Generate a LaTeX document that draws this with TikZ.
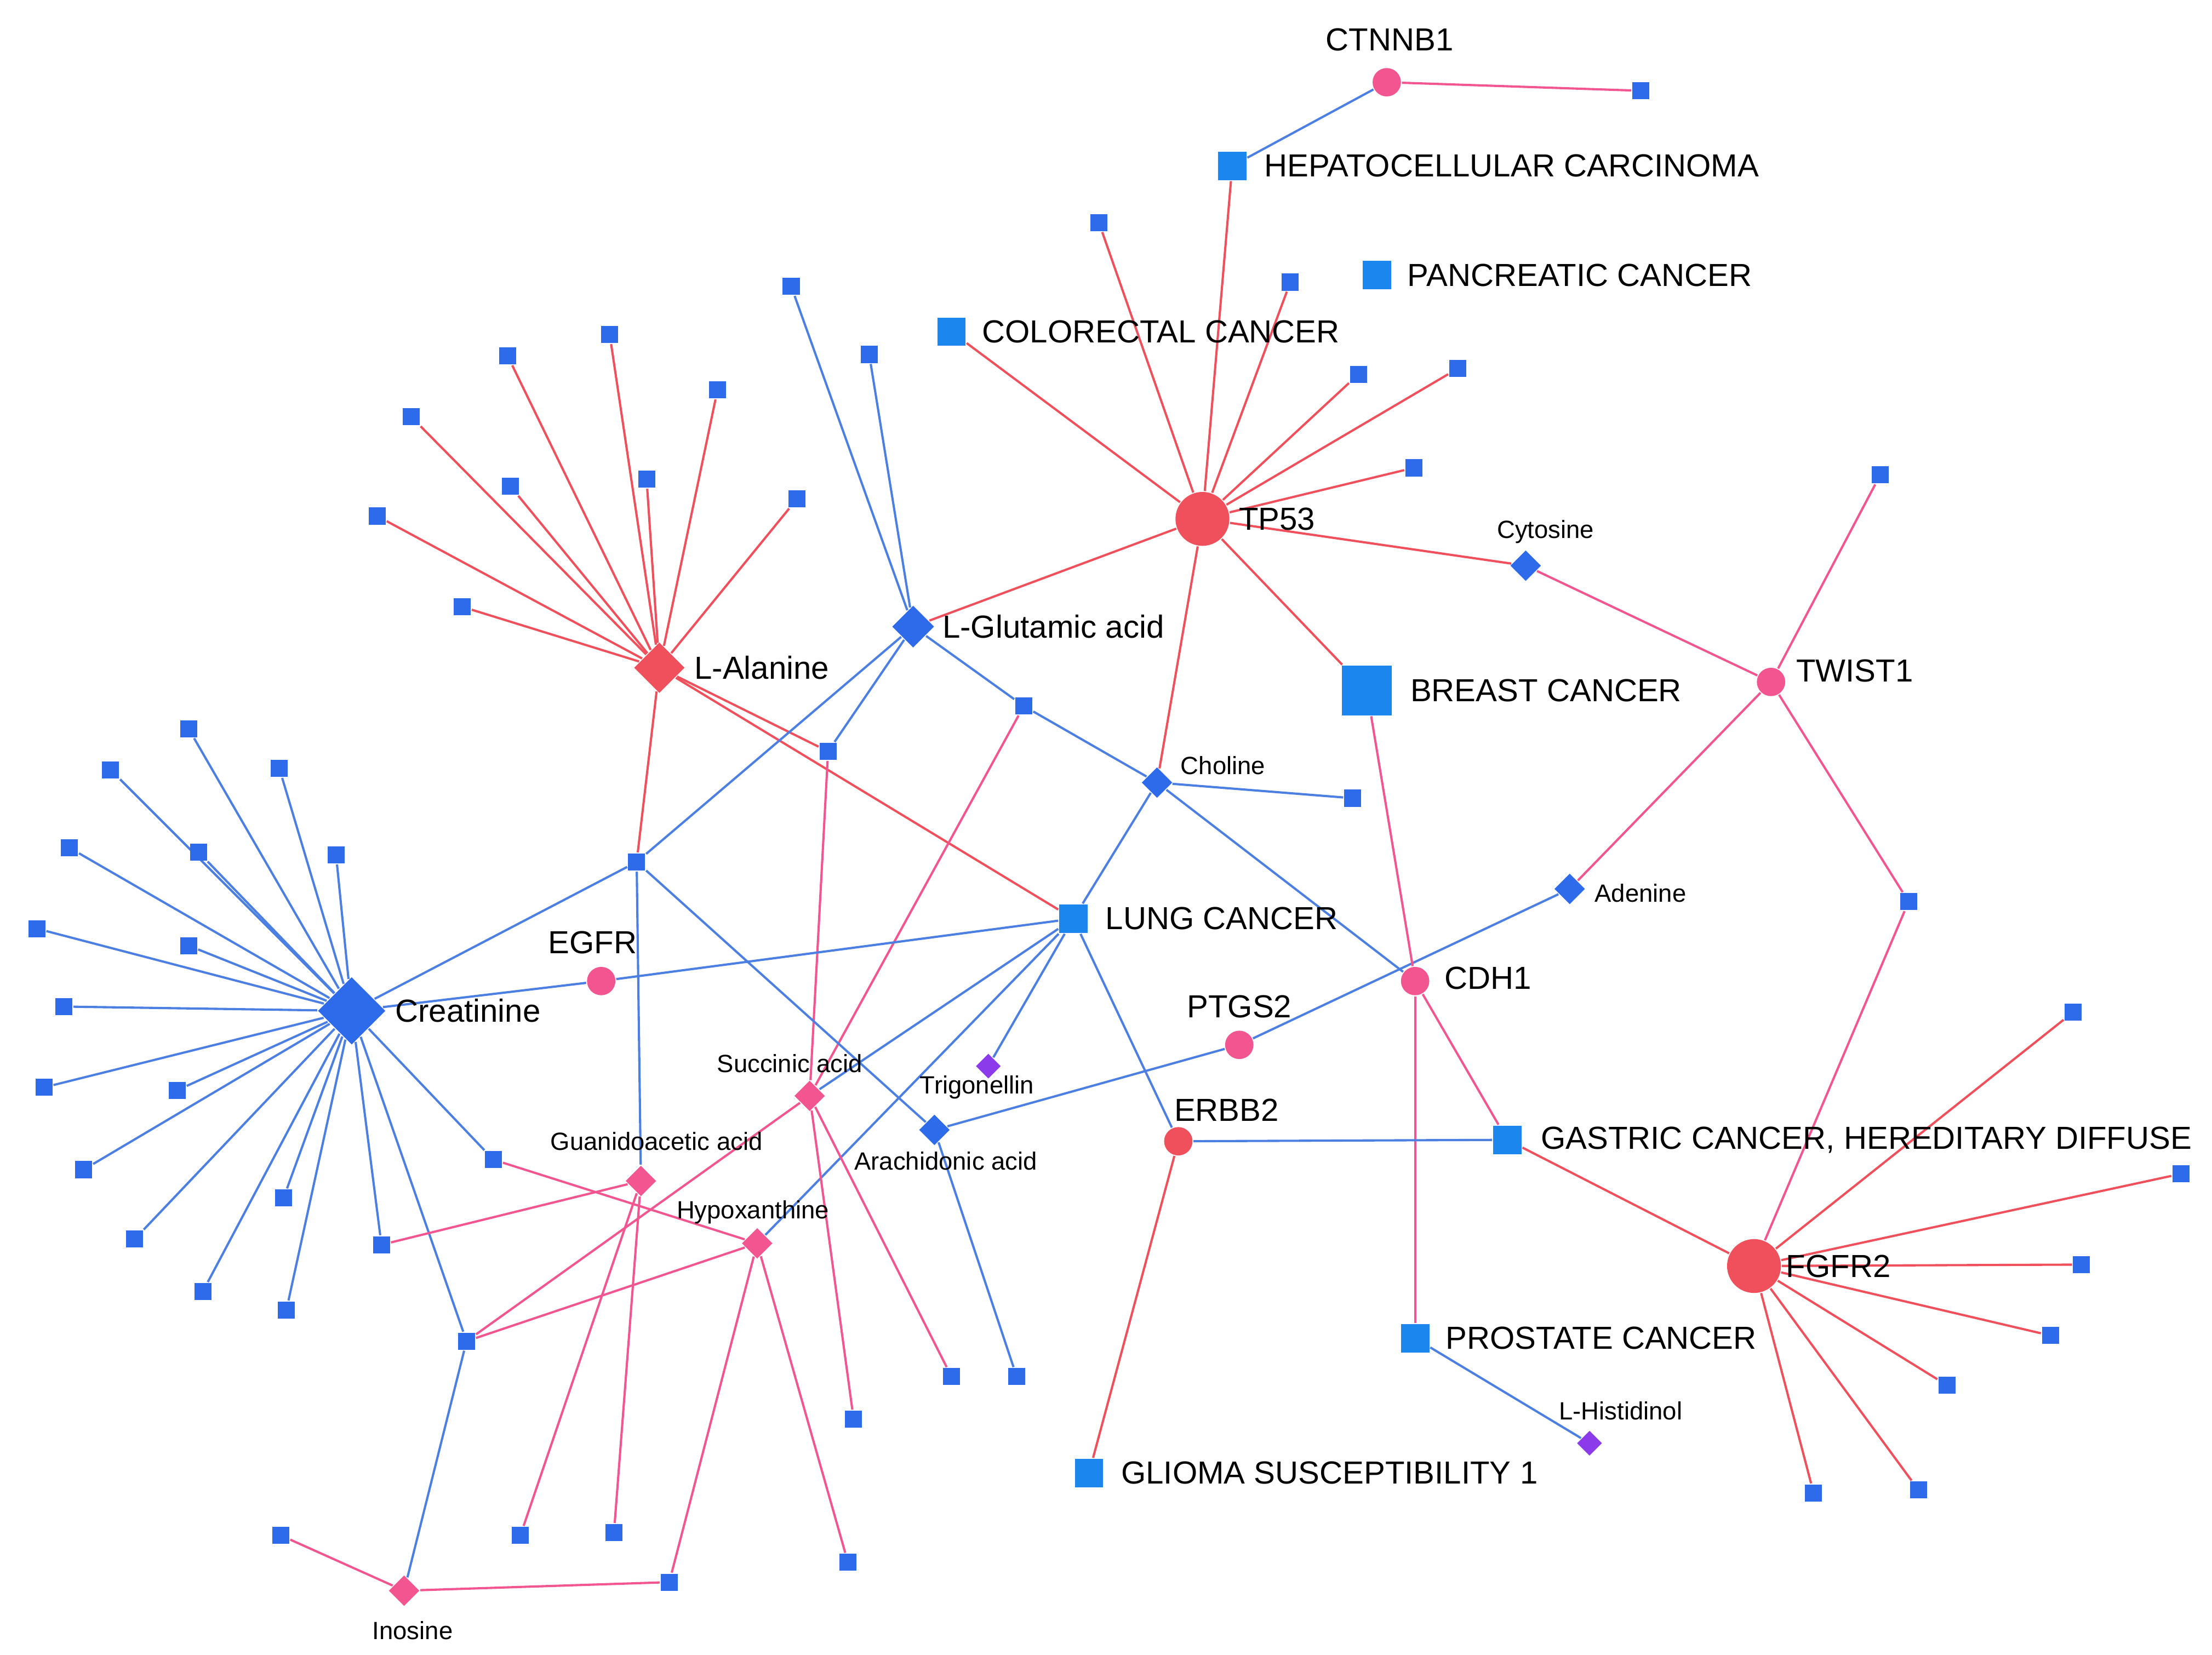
\documentclass[tikz,border=0pt]{standalone}
\usepackage{fontspec}
\setmainfont{Liberation Sans}
\usetikzlibrary{shapes.geometric}
\pgfdeclarelayer{bg}\pgfsetlayers{bg,main}
\definecolor{bsq}{HTML}{2E6BEA}
\definecolor{csq}{HTML}{1A86EE}
\definecolor{bl}{HTML}{4C7FE2}
\definecolor{rd}{HTML}{F0505C}
\definecolor{pk}{HTML}{F25590}
\definecolor{pu}{HTML}{8B3BEA}
\tikzset{
 sq/.style={rectangle,fill=bsq,minimum size=1.2mm,inner sep=0pt},
 cq/.style={rectangle,fill=csq,minimum size=2mm,inner sep=0pt},
 bq/.style={rectangle,fill=csq,minimum size=3.5mm,inner sep=0pt},
 dm/.style={diamond,fill=#1,minimum size=2.2mm,inner sep=0pt},
 cc/.style={circle,fill=#1,minimum size=2mm,inner sep=0pt},
 big/.style={minimum size=3.8mm},
 lb/.style={font=\fontsize{6.4}{7}\selectfont,inner sep=0pt},
 sl/.style={font=\fontsize{5}{6}\selectfont,inner sep=0pt},
 eb/.style={bl,line width=0.45pt},
 er/.style={rd,line width=0.45pt},
 ep/.style={pk,line width=0.45pt},
}
\begin{document}
\begin{tikzpicture}[x=0.1mm,y=-0.1mm]
\useasboundingbox (0,0) rectangle (1560,1167);
% main nodes
\node[cc=pk] (ct) at (978,58) {};
\node[sq] (ct1) at (1157,64) {};
\node[cq] (hep) at (869,117) {};
\node[cq] (pan) at (971,194) {};
\node[cq] (col) at (671,234) {};
\node[cc=rd,big] (tp) at (848,366) {};
\node[dm=bsq] (cyt) at (1076,399) {};
\node[cc=pk] (tw) at (1249,481) {};
\node[sq] (tw1) at (1326,335) {};
\node[sq] (tw2) at (1346,636) {};
\node[bq] (br) at (964,487) {};
\node[dm=bsq,minimum size=3mm] (glu) at (644,442) {};
\node[dm=rd,minimum size=3.6mm] (ala) at (465,471) {};
\node[sq] (g1) at (558,202) {};
\node[sq] (g2) at (613,250) {};
\node[sq] (m1) at (722,498) {};
\node[sq] (m2) at (584,530) {};
\node[sq] (m3) at (449,608) {};
\node[dm=bsq] (cho) at (816,552) {};
\node[sq] (cho1) at (954,563) {};
\node[cq] (lung) at (757,648) {};
\node[dm=bsq,minimum size=4.8mm] (cre) at (248,713) {};
\node[cc=pk] (egfr) at (424,692) {};
\node[cc=pk] (ptg) at (874,737) {};
\node[dm=bsq] (ade) at (1107,627) {};
\node[cc=pk] (cdh) at (998,692) {};
\node[cc=rd] (erb) at (831,805) {};
\node[cq] (gas) at (1063,804) {};
\node[cc=rd,big] (fg) at (1237,893) {};
\node[cq] (pro) at (998,944) {};
\node[dm=pu,minimum size=1.8mm] (his) at (1121,1018) {};
\node[cq] (gli) at (768,1039) {};
\node[dm=pu,minimum size=1.8mm] (tri) at (697,752) {};
\node[dm=bsq] (ara) at (659,797) {};
\node[sq] (ara1) at (717,971) {};
\node[dm=pk] (suc) at (571,773) {};
\node[dm=pk] (gua) at (452,833) {};
\node[dm=pk] (hyp) at (534,877) {};
\node[dm=pk] (ino) at (285,1122) {};
\node[sq] (c18) at (348,818) {};
\node[sq] (low) at (329,946) {};
\node[sq] (c17) at (269,878) {};
\node[sq] (s1) at (602,1001) {};
\node[sq] (s2) at (671,971) {};
\node[sq] (h1) at (598,1102) {};
\node[sq] (h2) at (472,1116) {};
\node[sq] (q1) at (367,1083) {};
\node[sq] (q2) at (433,1081) {};
\node[sq] (i1) at (198,1083) {};
\foreach \p/\n in {775/157,910/199,958/264,1028/260,997/330}{\node[sq] (t\p) at (\p,\n) {};}
\foreach \p/\n in {358/251,430/236,506/275,290/294,360/343,456/338,562/352,266/364,326/428}{\node[sq] (a\p) at (\p,\n) {};}
\foreach \p/\n in {133/514,78/543,197/542,49/598,140/601,237/603,26/655,133/667,45/710,31/767,125/769,59/825,200/845,95/874,143/911,202/924}{\node[sq] (k\p\n) at (\p,\n) {};}
\foreach \p/\n in {1462/714,1538/828,1468/892,1446/942,1373/977,1353/1051,1279/1053}{\node[sq] (f\p) at (\p,\n) {};}
% labels
\node[lb] (lct) at (980,28) {CTNNB1};
\node[lb,anchor=west] (lhep) at (891,117) {HEPATOCELLULAR CARCINOMA};
\node[lb,anchor=west] (lpan) at (992,194) {PANCREATIC CANCER};
\node[lb,anchor=west] (lcol) at (692,234) {COLORECTAL CANCER};
\node[lb,anchor=west] (ltp) at (873,366) {TP53};
\node[sl] (lcyt) at (1090,375) {Cytosine};
\node[lb,anchor=west] (ltw) at (1266,473) {TWIST1};
\node[lb,anchor=west] (lbr) at (994,487) {BREAST CANCER};
\node[lb,anchor=west] (lglu) at (664,442) {L-Glutamic acid};
\node[lb,anchor=west] (lala) at (489,471) {L-Alanine};
\node[sl,anchor=west] (lcho) at (832,540) {Choline};
\node[lb,anchor=west] (llung) at (779,648) {LUNG CANCER};
\node[lb,anchor=west] (lcre) at (278,713) {Creatinine};
\node[lb] (legfr) at (418,665) {EGFR};
\node[lb] (lptg) at (874,710) {PTGS2};
\node[sl,anchor=west] (lade) at (1124,630) {Adenine};
\node[lb,anchor=west] (lcdh) at (1018,690) {CDH1};
\node[lb] (lerb) at (865,783) {ERBB2};
\node[lb,anchor=west] (lgas) at (1086,804) {GASTRIC CANCER, HEREDITARY DIFFUSE};
\node[lb,anchor=west] (lfg) at (1259,893) {FGFR2};
\node[lb,anchor=west] (lpro) at (1019,944) {PROSTATE CANCER};
\node[sl] (lhis) at (1143,995) {L-Histidinol};
\node[lb,anchor=west] (lgli) at (790,1039) {GLIOMA SUSCEPTIBILITY 1};
\node[sl] (ltri) at (689,767) {Trigonellin};
\node[sl] (lara) at (667,819) {Arachidonic acid};
\node[sl] (lsuc) at (557,750) {Succinic acid};
\node[sl] (lgua) at (463,805) {Guanidoacetic acid};
\node[sl] (lhyp) at (531,855) {Hypoxanthine};
\node[sl] (lino) at (291,1150) {Inosine};
\begin{pgfonlayer}{bg}
\foreach \p in {775,910,958,1028,997}{\draw[er] (tp) -- (t\p);}
\foreach \t in {hep,col,glu,cyt,br,cho}{\draw[er] (tp) -- (\t);}
\draw[eb] (ct) -- (hep); \draw[ep] (ct) -- (ct1);
\draw[ep] (cyt) -- (tw); \draw[ep] (tw) -- (tw1); \draw[ep] (tw) -- (tw2); \draw[ep] (tw) -- (ade);
\foreach \p in {358,430,506,290,360,456,562,266,326}{\draw[er] (ala) -- (a\p);}
\draw[er] (ala) -- (m2); \draw[er] (ala) -- (m3); \draw[er] (ala) -- (lung);
\draw[eb] (glu) -- (g1); \draw[eb] (glu) -- (g2); \draw[eb] (glu) -- (m1); \draw[eb] (glu) -- (m2); \draw[eb] (glu) -- (m3);
\draw[eb] (m1) -- (cho); \draw[ep] (m1) -- (suc); \draw[ep] (m2) -- (suc);
\draw[eb] (cho) -- (cho1); \draw[eb] (cho) -- (lung); \draw[eb] (cho) -- (cdh);
\draw[eb] (m3) -- (cre); \draw[eb] (m3) -- (gua); \draw[eb] (m3) -- (ara);
\draw[eb] (lung) -- (egfr); \draw[eb] (egfr) -- (cre);
\draw[eb] (lung) -- (suc); \draw[eb] (lung) -- (hyp); \draw[eb] (lung) -- (tri); \draw[eb] (lung) -- (erb);
\foreach \p/\n in {133/514,78/543,197/542,49/598,140/601,237/603,26/655,133/667,45/710,31/767,125/769,59/825,200/845,95/874,143/911,202/924}{\draw[eb] (cre) -- (k\p\n);}
\draw[eb] (cre) -- (c17); \draw[eb] (cre) -- (c18); \draw[eb] (cre) -- (low); \draw[eb] (low) -- (ino);
\draw[eb] (ara) -- (ptg); \draw[eb] (ptg) -- (ade); \draw[eb] (ara) -- (ara1);
\draw[ep] (cdh) -- (br); \draw[ep] (cdh) -- (pro); \draw[ep] (cdh) -- (gas);
\draw[eb] (erb) -- (gas); \draw[er] (erb) -- (gli);
\draw[er] (gas) -- (fg); \draw[ep] (fg) -- (tw2);
\foreach \p in {1462,1538,1468,1446,1373,1353,1279}{\draw[er] (fg) -- (f\p);}
\draw[eb] (pro) -- (his);
\draw[ep] (suc) -- (s1); \draw[ep] (suc) -- (s2); \draw[ep] (suc) -- (low);
\draw[ep] (hyp) -- (h1); \draw[ep] (hyp) -- (h2); \draw[ep] (hyp) -- (low); \draw[ep] (hyp) -- (c18);
\draw[ep] (gua) -- (c17); \draw[ep] (gua) -- (q1); \draw[ep] (gua) -- (q2);
\draw[ep] (ino) -- (i1); \draw[ep] (ino) -- (h2);
\end{pgfonlayer}
\end{tikzpicture}
\end{document}
